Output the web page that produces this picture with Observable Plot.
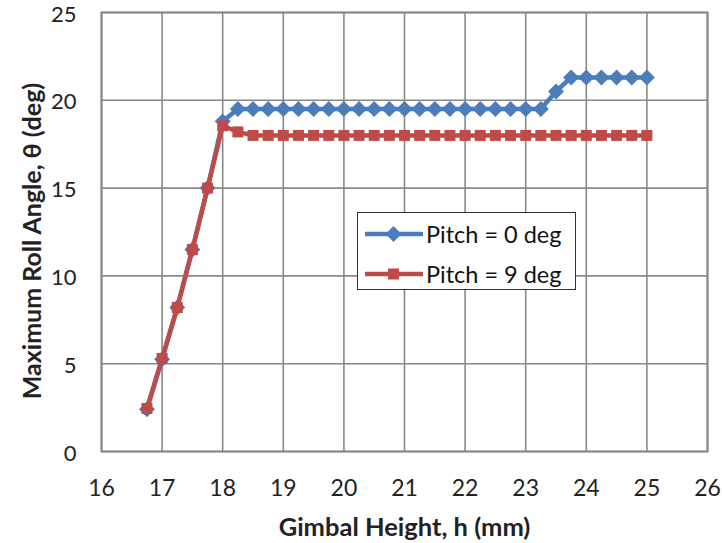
<!DOCTYPE html>
<html><head><meta charset="utf-8">
<script src="https://cdn.jsdelivr.net/npm/d3@7"></script>
<script src="https://cdn.jsdelivr.net/npm/@observablehq/plot@0.6"></script>
<style>
body{margin:0;background:#fff}
#wrap{position:relative;width:722px;height:543px;font-family:Lato,sans-serif;color:#222}
#legend{position:absolute;left:357px;top:212px;width:217px;height:76px;border:1.5px solid #333;background:#fff}
.row{position:absolute;left:0;height:30px;display:flex;align-items:center}
.row svg{margin-left:7px}
.row span{font-size:23.5px;margin-left:3px;color:#111}
</style>
</head><body><div id="wrap"></div>
<script>
const xTicks = [16,17,18,19,20,21,22,23,24,25,26];
const yTicks = [0,5,10,15,20,25];
const heightPitch0 = [16.75,17,17.25,17.5,17.75,18,18.25,18.5,18.75,19,19.25,19.5,19.75,20,20.25,20.5,20.75,21,21.25,21.5,21.75,22,22.25,22.5,22.75,23,23.25,23.5,23.75,24,24.25,24.5,24.75,25];
const rollPitch0 = [2.4,5.25,8.2,11.5,15.0,18.8,19.5,19.5,19.5,19.5,19.5,19.5,19.5,19.5,19.5,19.5,19.5,19.5,19.5,19.5,19.5,19.5,19.5,19.5,19.5,19.5,19.5,20.5,21.3,21.3,21.3,21.3,21.3,21.3];
const heightPitch9 = [16.75,17,17.25,17.5,17.75,18,18.25,18.5,18.75,19,19.25,19.5,19.75,20,20.25,20.5,20.75,21,21.25,21.5,21.75,22,22.25,22.5,22.75,23,23.25,23.5,23.75,24,24.25,24.5,24.75,25];
const rollPitch9 = [2.45,5.3,8.2,11.5,15.0,18.55,18.2,18.0,18.0,18.0,18.0,18.0,18.0,18.0,18.0,18.0,18.0,18.0,18.0,18.0,18.0,18.0,18.0,18.0,18.0,18.0,18.0,18.0,18.0,18.0,18.0,18.0,18.0,18.0];
const seriesNames = ["Pitch = 0 deg","Pitch = 9 deg"];
const colors = ["#4a7ebb","#be4b48"];
const xTitle = "Gimbal Height, h (mm)";
const yTitle = "Maximum Roll Angle, \u03b8 (deg)";

const d0 = heightPitch0.map((h,i)=>({h, r: rollPitch0[i]}));
const d9 = heightPitch9.map((h,i)=>({h, r: rollPitch9[i]}));

const chart = Plot.plot({
  width:722, height:543,
  marginLeft:101, marginRight:15, marginTop:12, marginBottom:92,
  style:{fontFamily:"Lato, sans-serif", fontSize:"23px", color:"#222", background:"#fff"},
  x:{domain:[16,26], label:null},
  y:{domain:[0,25], label:null},
  marks:[
    Plot.gridX(xTicks,{stroke:"#888", strokeOpacity:1, strokeWidth:1.6}),
    Plot.gridY(yTicks,{stroke:"#888", strokeOpacity:1, strokeWidth:1.6}),
    Plot.frame({stroke:"#888", strokeWidth:2}),
    Plot.axisX(xTicks,{tickSize:0, tickPadding:28, label:null, fontSize:23}),
    Plot.axisY(yTicks,{tickSize:0, tickPadding:25, label:null, fontSize:22, dy:2}),
    Plot.line(d0,{x:"h", y:"r", stroke:colors[0], strokeWidth:4.5}),
    Plot.dot(d0,{x:"h", y:"r", symbol:"diamond2", r:7.2, fill:colors[0], stroke:null}),
    Plot.line(d9,{x:"h", y:"r", stroke:colors[1], strokeWidth:4.5}),
    Plot.dot(d9,{x:"h", y:"r", symbol:"square", r:6.2, fill:colors[1], stroke:null}),
    Plot.text([xTitle],{frameAnchor:"bottom", lineAnchor:"middle", textAnchor:"middle", dy:76, fontWeight:"bold", fontSize:25.5, fill:"#222"}),
    Plot.text([yTitle],{frameAnchor:"left", lineAnchor:"middle", textAnchor:"middle", dx:-69, dy:9, rotate:-90, fontWeight:"bold", fontSize:25, fill:"#222"})
  ]
});
const wrap = document.getElementById("wrap");
wrap.appendChild(chart);

const legend = document.createElement("div");
legend.id = "legend";
seriesNames.forEach((name,i)=>{
  const row = document.createElement("div");
  row.className = "row";
  row.style.top = (i===0 ? 6 : 46) + "px";
  const marker = i===0
    ? `<path d="M28.5,${15-8} L36.5,15 L28.5,${15+8} L20.5,15 Z" fill="${colors[0]}"/>`
    : `<rect x="23" y="9.5" width="11" height="11" fill="${colors[1]}"/>`;
  row.innerHTML = `<svg width="58" height="30"><line x1="1" x2="57" y1="15" y2="15" stroke="${colors[i]}" stroke-width="4.5" stroke-linecap="round"/>${marker}</svg><span>${name}</span>`;
  legend.appendChild(row);
});
wrap.appendChild(legend);
</script>
</body></html>
